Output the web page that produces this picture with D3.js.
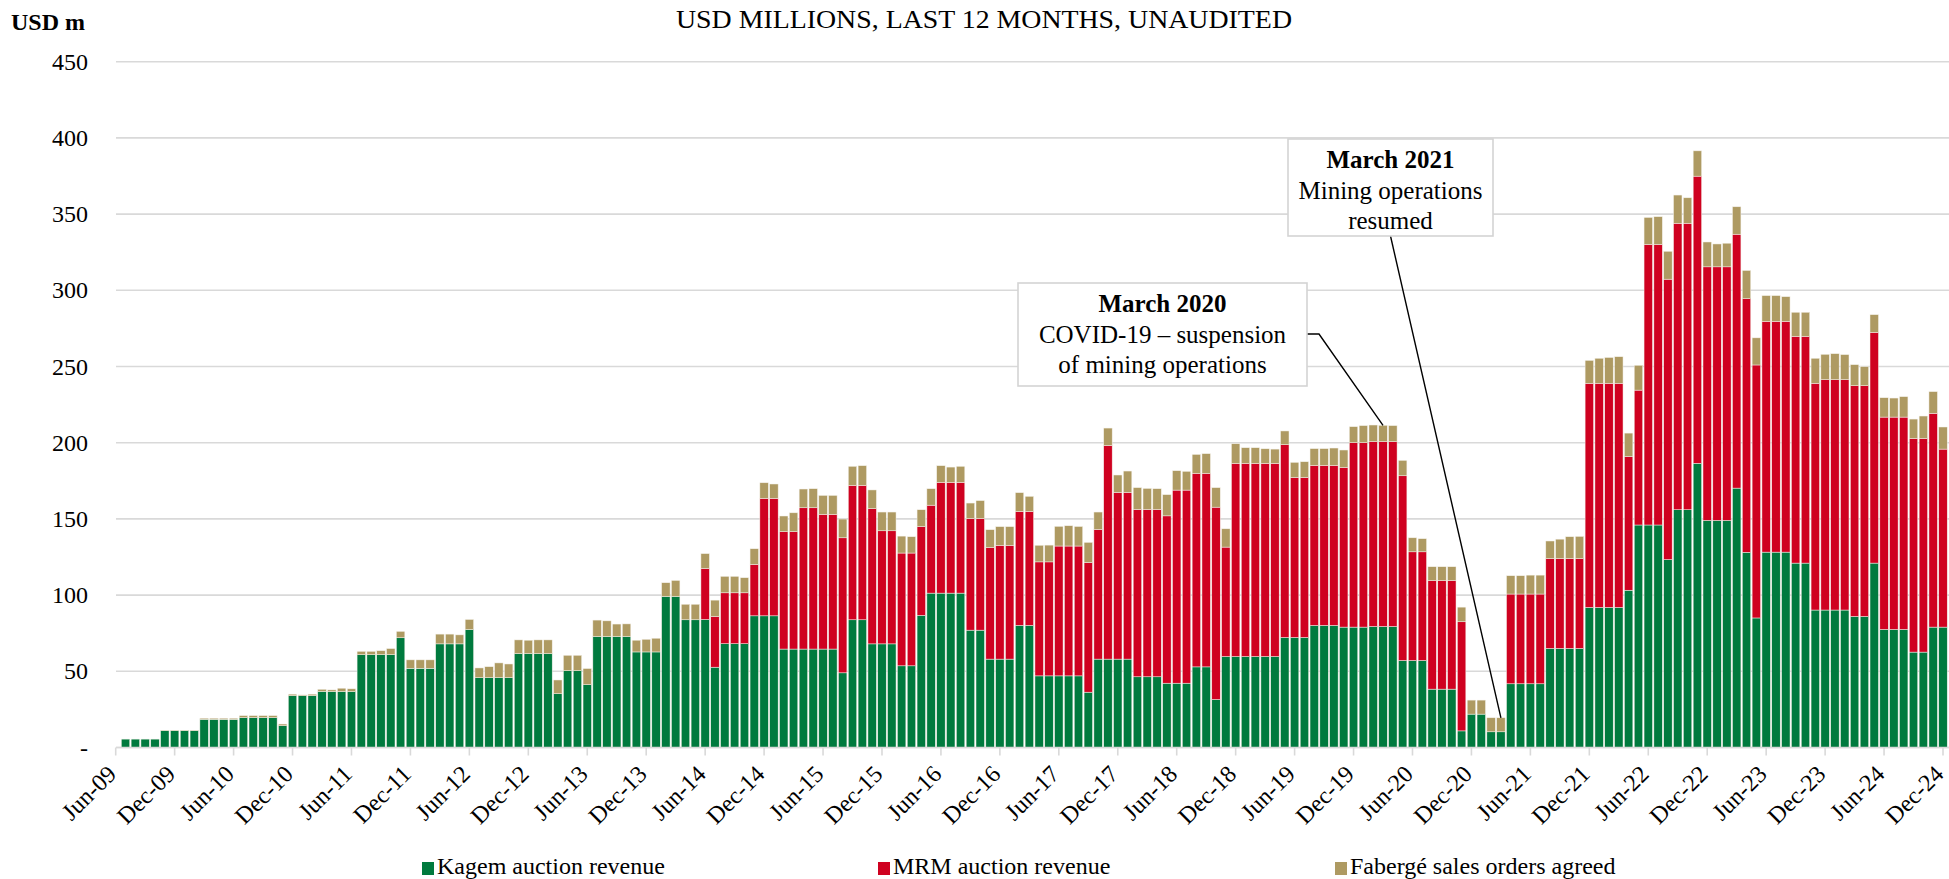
<!DOCTYPE html>
<html>
<head>
<meta charset="utf-8">
<script src="https://cdn.jsdelivr.net/npm/d3@7"></script>
<style>
  body { margin: 0; background: #fff; }
  svg text { font-family: "Liberation Serif", "Times New Roman", serif; fill: #000; }
</style>
</head>
<body>
<script>
// LTM revenue by month, Jun-09 .. Dec-24 (USD m)
var kagem = [
  0, 5.5, 5.5, 5.5, 5.5, 11, 11,
  11, 11, 18.5, 18.5, 18.5, 18.5, 19.6, 19.6, 19.6, 19.6, 14.3, 34,
  34, 34, 36.7, 36.7, 36.7, 36.7, 60.9, 60.9, 60.9, 60.9, 72, 52,
  52, 52, 68, 68, 68, 77.4, 45.8, 45.8, 45.8, 45.8, 61.6, 61.6,
  61.6, 61.6, 35.3, 50.4, 50.4, 41.2, 72.8, 72.8, 72.8, 72.8, 62.7, 62.7,
  62.7, 99.1, 99.1, 83.8, 83.8, 84, 52.7, 68.1, 68.1, 68.1, 86.4, 86.4,
  86.4, 64.6, 64.6, 64.6, 64.6, 64.6, 64.6, 49, 83.8, 83.8, 68, 68,
  68, 53.6, 53.6, 86.7, 101.3, 101.3, 101.3, 101.3, 77, 77, 58, 58,
  58, 80.1, 80.1, 47, 47, 47, 47, 47, 36.3, 58, 58, 58,
  58, 46.4, 46.4, 46.4, 42.2, 42.2, 42.2, 52.9, 52.9, 31.5, 59.7, 59.7,
  59.7, 59.7, 59.7, 59.7, 72.2, 72.2, 72.2, 80.1, 80.1, 80.1, 79, 79,
  79, 79.4, 79.4, 79.4, 57.1, 57.1, 57.1, 38.3, 38.3, 38.3, 10.9, 21.9,
  21.9, 10.3, 10.3, 41.8, 41.8, 41.8, 41.8, 65, 65, 65, 65, 91.9,
  91.9, 91.9, 91.9, 103.2, 146, 146, 146, 123.3, 156, 156, 186.5, 149,
  149, 149, 170.2, 128.1, 85, 128.2, 128.2, 128.2, 121, 121, 90.2, 90.2,
  90.2, 90.2, 86, 86, 121, 77.5, 77.5, 77.5, 62.6, 62.6, 79, 79
];
var mrm = [
  0, 0, 0, 0, 0, 0, 0,
  0, 0, 0, 0, 0, 0, 0, 0, 0, 0, 0, 0,
  0, 0, 0, 0, 0, 0, 0, 0, 0, 0, 0, 0,
  0, 0, 0, 0, 0, 0, 0, 0, 0, 0, 0, 0,
  0, 0, 0, 0, 0, 0, 0, 0, 0, 0, 0, 0,
  0, 0, 0, 0, 0, 33.5, 33.3, 33.4, 33.4, 33.4, 33.7, 77.1,
  77.1, 77, 77, 92.7, 92.7, 88.4, 88.4, 88.6, 88.2, 88.2, 88.7, 74.2,
  74.2, 74, 74, 58.3, 57.7, 72.7, 72.7, 72.7, 73.3, 73.3, 73.3, 74.6,
  74.6, 74.8, 74.8, 74.8, 74.8, 85.2, 85.2, 85.2, 85.1, 85.1, 140.2, 109.4,
  109.4, 109.8, 109.8, 109.8, 109.8, 126.7, 126.7, 127, 127, 126.2, 71.8, 126.7,
  126.7, 126.7, 126.7, 126.7, 126.5, 105, 105, 105, 105, 105, 104.8, 121,
  121, 121.3, 121.3, 121.3, 121.2, 71.3, 71.3, 71.3, 71.3, 71.3, 71.6, 0,
  0, 0, 0, 58.9, 58.9, 58.9, 58.9, 59, 59, 59, 59, 147.1,
  147.1, 147.1, 147.1, 87.8, 88.5, 184.1, 184.1, 184, 188, 188, 188.4, 166.4,
  166.4, 166.4, 166.6, 166.4, 166, 151.4, 151.4, 151.4, 148.8, 148.8, 148.8, 151.2,
  151.2, 151.2, 151.4, 151.4, 151.4, 139.3, 139.3, 139.3, 140.2, 140.2, 140.3, 116.8
];
var faberge = [
  0, 0, 0, 0, 0, 0.3, 0.3,
  0.3, 0.3, 0.7, 0.7, 0.7, 0.7, 1.3, 1.3, 1.3, 1.3, 1.1, 1,
  0.5, 1, 1.5, 1.1, 2.2, 1.8, 2.2, 2.2, 2.6, 4, 4.2, 5.5,
  5.5, 5.5, 6.4, 6.4, 5.9, 6.6, 6.4, 7.2, 9.7, 9, 9, 8.8,
  9, 9, 9, 10.1, 10.1, 10.6, 10.8, 10.3, 8.2, 8.3, 7.7, 8.3,
  9, 9, 10.5, 10.2, 10.2, 9.7, 10.7, 10.8, 10.8, 9.9, 10.3, 10.2,
  9.4, 10.3, 12.4, 12.3, 12.5, 12.4, 12.4, 12.3, 12.5, 12.9, 12.3, 12.3,
  12.3, 11.1, 10.7, 11, 10.8, 10.9, 10, 10.5, 10.1, 11.7, 11.6, 12.3,
  12.3, 12.3, 9.9, 10.9, 11, 12.9, 13.3, 12.8, 13.2, 11.4, 11.4, 11.4,
  14, 14.3, 13.8, 13.6, 13.9, 12.7, 12.3, 12.4, 12.9, 12.8, 12, 12.9,
  10.3, 10.3, 9.6, 9.4, 9, 9.9, 10.3, 11, 11, 11.4, 11.4, 10.5,
  11.2, 10.9, 10.7, 10.5, 10.1, 9.2, 8.6, 9, 9, 9, 9.6, 9.2,
  9.2, 9.2, 9.2, 12, 12, 12.4, 12.4, 11.5, 12.7, 14.3, 14.5, 15,
  16.4, 16.9, 17.4, 15.3, 16.3, 17.7, 18.2, 18.3, 18.5, 16.7, 16.6, 16.3,
  15, 15.5, 18, 18.5, 17.8, 16.9, 16.9, 16.2, 15.8, 15.8, 16.4, 16.6,
  17, 16.4, 13.8, 12.5, 11.6, 12.7, 12.5, 13.4, 12.7, 14.7, 14.2, 14.5
];

var seriesKeys = ["kagem", "mrm", "faberge"];
var seriesNames = ["Kagem auction revenue", "MRM auction revenue", "Fabergé sales orders agreed"];
var seriesColors = ["#007a3e", "#cf0120", "#ae9a62"];
var yTicks = [0, 50, 100, 150, 200, 250, 300, 350, 400, 450];

var notes = [
    {month: "Mar-20", head: "March 2020", lines: ["COVID-19 – suspension", "of mining operations"]},
    {month: "Mar-21", head: "March 2021", lines: ["Mining operations", "resumed"]}
];

var W = 1949, H = 879;
var fmt = d3.timeFormat("%b-%y");
var categories = d3.timeMonth.range(new Date(2009, 5, 1), new Date(2025, 0, 1)).map(fmt);
var tickLabels = categories.filter(function(d, i) { return i % 6 === 0; });

var rows = categories.map(function(c, i) {
    return {cat: c, kagem: kagem[i], mrm: mrm[i], faberge: faberge[i]};
});
var stacked = d3.stack().keys(seriesKeys)(rows);

var svg = d3.select("body").append("svg")
    .attr("width", W)
    .attr("height", H);

//Scales
var step = (1943 - 115.7) / (categories.length - 1);
var x = d3.scaleBand()
    .domain(categories)
    .range([115.7 - step / 2, 1943 + step / 2])
    .paddingInner(0.14)
    .paddingOuter(0.07);
var y = d3.scaleLinear().domain([0, 450]).range([747.5, 61.7]);

//Gridlines
svg.append("g")
    .selectAll("line")
    .data(yTicks)
    .enter()
    .append("line")
    .attr("x1", 116)
    .attr("x2", W)
    .attr("y1", function(d) { return y(d); })
    .attr("y2", function(d) { return y(d); })
    .attr("stroke", "#d9d9d9")
    .attr("stroke-width", 1.6);

//Y labels
svg.append("g")
    .selectAll("text")
    .data(yTicks)
    .enter()
    .append("text")
    .attr("x", 88)
    .attr("y", function(d) { return y(d); })
    .attr("dy", "0.34em")
    .attr("text-anchor", "end")
    .style("font-size", "24px")
    .text(function(d) { return d === 0 ? "-" : d; });

//Bars
svg.append("g")
    .selectAll("g")
    .data(stacked)
    .enter()
    .append("g")
    .attr("fill", function(d, i) { return seriesColors[i]; })
    .selectAll("rect")
    .data(function(d) { return d; })
    .enter()
    .append("rect")
    .attr("x", function(d) { return x(d.data.cat); })
    .attr("width", x.bandwidth())
    .attr("y", function(d) { return y(d[1]); })
    .attr("height", function(d) { return Math.max(0, y(d[0]) - y(d[1])); })
    .attr("stroke", "#f4f1ea")
    .attr("stroke-width", 0.5);

//X axis
var xAxis = d3.axisBottom(x).tickValues(tickLabels).tickSize(8).tickFormat("");
var xg = svg.append("g")
    .attr("transform", "translate(0," + y(0) + ")")
    .call(xAxis);
xg.select(".domain").attr("stroke", "#d9d9d9").attr("stroke-width", 1.6).attr("d", "M116,0H" + W);
xg.selectAll(".tick line").attr("stroke", "#d9d9d9").attr("stroke-width", 1.6);

svg.append("g")
    .selectAll("text")
    .data(tickLabels)
    .enter()
    .append("text")
    .attr("transform", function(d) {
        return "translate(" + (x(d) + x.bandwidth() / 2 + 2) + "," + (y(0) + 28) + ") rotate(-45)";
    })
    .attr("text-anchor", "end")
    .style("font-size", "24px")
    .text(function(d) { return d; });

//Titles
svg.append("text")
    .attr("x", 11)
    .attr("y", 30)
    .style("font-size", "24px")
    .style("font-weight", "bold")
    .text("USD m");

svg.append("text")
    .attr("x", 676)
    .attr("y", 28)
    .attr("textLength", 616)
    .attr("lengthAdjust", "spacingAndGlyphs")
    .style("font-size", "25px")
    .text("USD MILLIONS, LAST 12 MONTHS, UNAUDITED");

//Annotations
var boxes = [
    {x: 1018, y: 283, w: 289, h: 103},
    {x: 1288, y: 139, w: 205, h: 97}
];
notes.forEach(function(n, i) {
    var b = boxes[i];
    var idx = categories.indexOf(n.month);
    var tx = x(n.month) + x.bandwidth() / 2;
    var ty = y(kagem[idx] + mrm[idx] + faberge[idx]);
    var path = i === 0
        ? "M" + (b.x + b.w) + "," + (b.y + 51) + "H" + (b.x + b.w + 12) + "L" + tx + "," + ty
        : "M" + (b.x + b.w / 2) + "," + (b.y + b.h) + "L" + tx + "," + ty;
    svg.append("path")
        .attr("d", path)
        .attr("fill", "none")
        .attr("stroke", "#000")
        .attr("stroke-width", 1.4);
    svg.append("rect")
        .attr("x", b.x).attr("y", b.y)
        .attr("width", b.w).attr("height", b.h)
        .attr("fill", "#fff")
        .attr("stroke", "#d4d4d4")
        .attr("stroke-width", 1.6);
    var t = svg.append("text")
        .attr("text-anchor", "middle")
        .style("font-size", "25px");
    t.append("tspan")
        .attr("x", b.x + b.w / 2)
        .attr("y", b.y + 29)
        .style("font-weight", "bold")
        .text(n.head);
    n.lines.forEach(function(l, j) {
        t.append("tspan")
            .attr("x", b.x + b.w / 2)
            .attr("y", b.y + 60 + j * 30)
            .text(l);
    });
});

//Legend
var legendX = [422, 878, 1335];
var lg = svg.append("g")
    .selectAll("g")
    .data(seriesNames)
    .enter()
    .append("g")
    .attr("transform", function(d, i) { return "translate(" + legendX[i] + ",862)"; });
lg.append("rect")
    .attr("width", 12)
    .attr("height", 13)
    .attr("fill", function(d, i) { return seriesColors[i]; });
lg.append("text")
    .attr("x", 15)
    .attr("y", 12)
    .style("font-size", "24px")
    .text(function(d) { return d; });
</script>
</body>
</html>
